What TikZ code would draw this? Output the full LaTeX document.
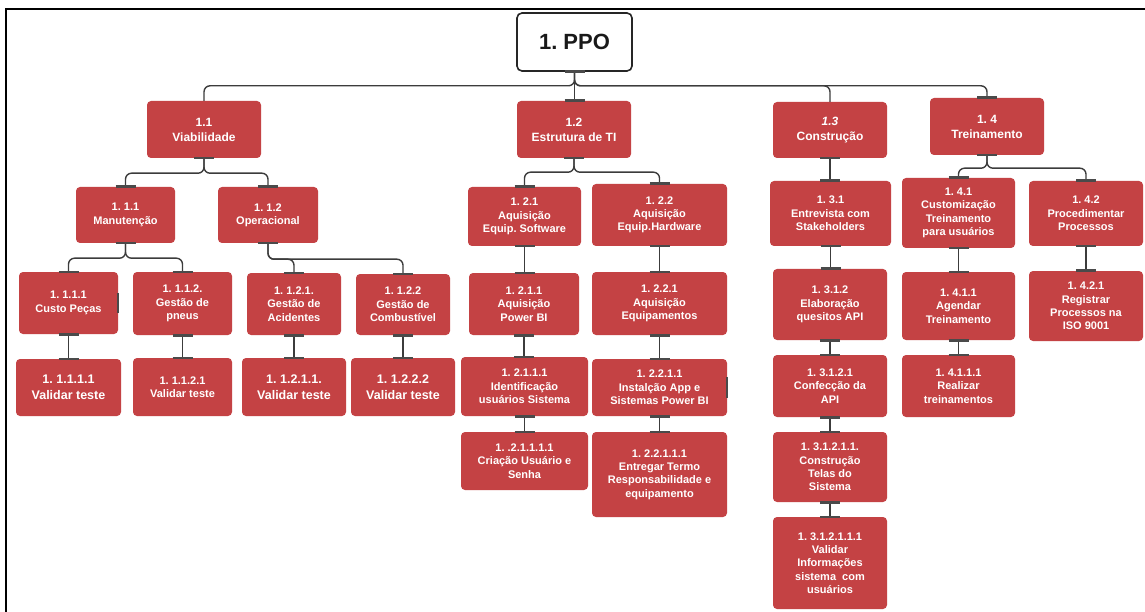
\documentclass[tikz,border=0pt]{standalone}
\usepackage{fontspec}
\setmainfont{Liberation Sans}
\usetikzlibrary{calc}
\frenchspacing
\definecolor{wbsred}{HTML}{C44244}
\definecolor{lnk}{HTML}{3C3C3C}
\definecolor{capc}{HTML}{4A4A4A}
\tikzset{
 wbs/.style={fill=wbsred, rounded corners=4pt, text=white, font=\bfseries\fontsize{11}{13.3}\selectfont, align=center, inner sep=2pt},
 lvlone/.style={wbs, font=\bfseries\fontsize{12}{15}\selectfont},
 bigtxt/.style={wbs, font=\bfseries\fontsize{12.5}{16.5}\selectfont},
 rootbox/.style={draw=black!85, line width=1.6pt, fill=white, rounded corners=5pt, text=black!90, font=\bfseries\fontsize{22}{24}\selectfont, inner sep=2pt},
 conn/.style={draw=lnk, line width=1.4pt, rounded corners=6pt},
 capline/.style={draw=capc, line width=2.6pt}
}
\newcommand\wbsbox[6]{\node[#1, minimum width=#4pt, minimum height=#5pt] (#2) at (#3) {#6};}
\newcommand\capbar[1]{\draw[capline] ([xshift=-10pt]#1) -- ([xshift=10pt]#1);}
\newcommand\blink[3]{\draw[conn] (#1.south) -- ++(0,#3) -| (#2.north);\capbar{#1.south}\capbar{#2.north}}
\newcommand\vlink[2]{\draw[conn] (#1.south) -- (#1.south |- #2.north);\capbar{#1.south}\capbar{#1.south |- #2.north}}
\begin{document}
\begin{tikzpicture}[x=1pt,y=-1pt]
\useasboundingbox (0,0) rectangle (1145,612);
\fill[white] (0,0) rectangle (1145,612);
\draw[line width=2pt, black] (6,612) -- (6,9) -- (1145,9);

% root
\node[rootbox, minimum width=115pt, minimum height=58pt] (ppo) at (574.5,42) {1. PPO};

% level 1
\wbsbox{lvlone}{v11}{204,129.5}{114}{57}{1.1\\Viabilidade}
\wbsbox{lvlone}{v12}{574,129.5}{114}{57}{1.2\\Estrutura de TI}
\wbsbox{lvlone}{v13}{830,130}{114}{56}{\textit{1.3}\\Construção}
\wbsbox{lvlone}{v14}{987,126.5}{114}{57}{1. 4\\Treinamento}

% branch 1.1
\wbsbox{wbs}{v111}{125.5,215}{99}{56}{1. 1.1\\Manutenção}
\wbsbox{wbs}{v112}{268,215}{100}{56}{1. 1.2\\Operacional}
\wbsbox{wbs}{v1111}{68.5,303}{99}{62}{1. 1.1.1\\Custo Peças}
\wbsbox{wbs}{v1112}{182.5,303.5}{99}{63}{1. 1.1.2.\\Gestão de\\pneus}
\wbsbox{wbs}{v1121}{294,304}{94}{62}{1. 1.2.1.\\Gestão de\\Acidentes}
\wbsbox{wbs}{v1122}{403,304.5}{94}{61}{1. 1.2.2\\Gestão de\\Combustível}
\wbsbox{bigtxt}{v11111}{68.5,387.5}{105}{57}{1. 1.1.1.1\\Validar teste}
\wbsbox{wbs}{v11121}{182.5,387}{99}{58}{1. 1.1.2.1\\Validar teste}
\wbsbox{bigtxt}{v11211}{294,387}{104}{58}{1. 1.2.1.1.\\Validar teste}
\wbsbox{bigtxt}{v11222}{403,387}{104}{58}{1. 1.2.2.2\\Validar teste}

% branch 1.2
\wbsbox{wbs}{v121}{524.5,216.5}{113}{59}{1. 2.1\\Aquisição\\Equip. Software}
\wbsbox{wbs}{v122}{659.5,215}{135}{62}{1. 2.2\\Aquisição\\Equip.Hardware}
\wbsbox{wbs}{v1211}{524,304}{110}{62}{1. 2.1.1\\Aquisição\\Power BI}
\wbsbox{wbs}{v1221}{659.5,303.5}{135}{63}{1. 2.2.1\\Aquisição\\Equipamentos}
\wbsbox{wbs}{v12111}{524.5,386.5}{127}{59}{1. 2.1.1.1\\Identificação\\usuários Sistema}
\wbsbox{wbs}{v12211}{659.5,387.5}{135}{57}{1. 2.2.1.1\\Instalção App e\\Sistemas Power BI}
\wbsbox{wbs}{v121111}{524.5,461}{127}{58}{1. .2.1.1.1.1\\Criação Usuário e\\Senha}
\wbsbox{wbs}{v122111}{659.5,474.5}{135}{85}{1. 2.2.1.1.1\\Entregar Termo\\Responsabilidade e\\equipamento}

% branch 1.3
\wbsbox{wbs}{v131}{830.5,213.5}{121}{65}{1. 3.1\\Entrevista com\\Stakeholders}
\wbsbox{wbs}{v1312}{830,304.5}{114}{71}{1. 3.1.2\\Elaboração\\quesitos API}
\wbsbox{wbs}{v13121}{830,386}{114}{62}{1. 3.1.2.1\\Confecção da\\API}
\wbsbox{wbs}{v131211}{830,467}{114}{70}{1. 3.1.2.1.1.\\Construção\\Telas do\\Sistema}
\wbsbox{wbs}{v1312111}{830,563}{114}{92}{1. 3.1.2.1.1.1\\Validar\\Informações\\sistema\ \ com\\usuários}

% branch 1.4
\wbsbox{wbs}{v141}{958.5,213}{113}{70}{1. 4.1\\Customização\\Treinamento\\para usuários}
\wbsbox{wbs}{v142}{1086,213.5}{114}{65}{1. 4.2\\Procedimentar\\Processos}
\wbsbox{wbs}{v1411}{958.5,306}{113}{68}{1. 4.1.1\\Agendar\\Treinamento}
\wbsbox{wbs}{v1421}{1086,306}{114}{70}{1. 4.2.1\\Registrar\\Processos na\\ISO 9001}
\wbsbox{wbs}{v14111}{958.5,386}{113}{62}{1. 4.1.1.1\\Realizar\\treinamentos}

% root connectors
\draw[conn] (ppo.south) -- ++(0,14) -| (v11.north);
\draw[conn] (ppo.south) -- ++(0,14) -| (v13.north);
\draw[conn] (ppo.south) -- ++(0,14) -| (v14.north);
\draw[conn] (ppo.south) -- (ppo.south |- v12.north);
\capbar{ppo.south}
\capbar{ppo.south |- v12.north}
\capbar{v14.north}

% branch connectors
\blink{v11}{v111}{15}
\blink{v11}{v112}{15}
\blink{v12}{v121}{14}
\blink{v12}{v122}{14}
\blink{v14}{v141}{13}
\blink{v14}{v142}{13}
\blink{v111}{v1111}{15}
\blink{v111}{v1112}{15}
\blink{v112}{v1121}{16}
\blink{v112}{v1122}{16}

% vertical connectors
\vlink{v13}{v131}
\vlink{v131}{v1312}
\vlink{v1312}{v13121}
\vlink{v13121}{v131211}
\vlink{v131211}{v1312111}
\vlink{v1111}{v11111}
\vlink{v1112}{v11121}
\vlink{v1121}{v11211}
\vlink{v1122}{v11222}
\vlink{v121}{v1211}
\vlink{v1211}{v12111}
\vlink{v12111}{v121111}
\vlink{v122}{v1221}
\vlink{v1221}{v12211}
\vlink{v12211}{v122111}
\vlink{v141}{v1411}
\vlink{v1411}{v14111}
\vlink{v142}{v1421}

% small edge marks
\draw[capc, line width=2pt] (v1111.east |- 0,293) -- (v1111.east |- 0,313);
\draw[capc, line width=2pt] (v12211.east |- 0,377) -- (v12211.east |- 0,398);
\end{tikzpicture}
\end{document}
